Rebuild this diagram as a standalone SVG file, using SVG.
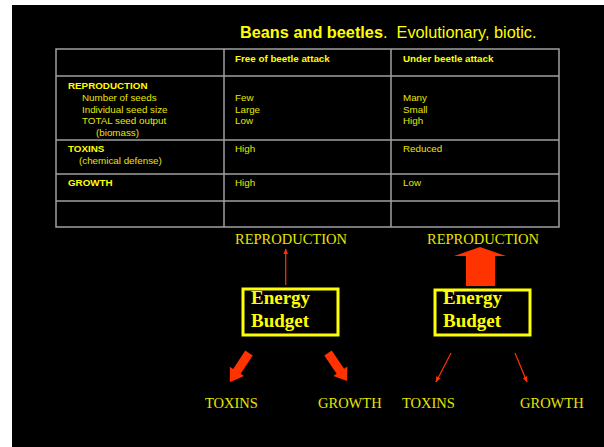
<svg xmlns="http://www.w3.org/2000/svg" width="604" height="447" viewBox="0 0 604 447">
<defs>
<style>
.tb{font-family:"Liberation Sans",Arial,sans-serif;font-size:9.8px;fill:#e6e600}
.tbb{font-family:"Liberation Sans",Arial,sans-serif;font-size:9.8px;font-weight:bold;fill:#ffff00}
.grid{stroke:#a0a0a0;stroke-width:1.5;fill:none}
.lbl{font-family:"Liberation Serif","Times New Roman",serif;font-size:14.5px;fill:#e6e600}
.eb{font-family:"Liberation Serif","Times New Roman",serif;font-size:19px;font-weight:bold;fill:#ffff00}
.box{fill:none;stroke:#ffff00;stroke-width:3}
.thin{stroke:#ff3300;stroke-width:1.2;fill:none}
.thick{fill:#ff3300}
</style>
<marker id="ah" viewBox="0 0 10 10" refX="9" refY="5" markerWidth="6" markerHeight="6" markerUnits="userSpaceOnUse" orient="auto">
<path d="M0,1 L10,5 L0,9 Z" fill="#ff3300"/>
</marker>
</defs>
<rect x="0" y="0" width="604" height="447" fill="#ffffff"/>
<rect x="12" y="5" width="592" height="442" fill="#000000"/>
<text x="240" y="38" font-family="Liberation Sans, Arial, sans-serif" font-size="16.3" fill="#ffff00" xml:space="preserve" style="white-space:pre"><tspan font-weight="bold">Beans and beetles</tspan>.  Evolutionary, biotic.</text>
<g id="table">
<rect class="grid" x="56" y="49" width="503" height="178"/>
<line class="grid" x1="224" y1="49" x2="224" y2="227"/>
<line class="grid" x1="391" y1="49" x2="391" y2="227"/>
<line class="grid" x1="56" y1="76" x2="559" y2="76"/>
<line class="grid" x1="56" y1="140" x2="559" y2="140"/>
<line class="grid" x1="56" y1="174" x2="559" y2="174"/>
<line class="grid" x1="56" y1="201" x2="559" y2="201"/>
<text class="tbb" x="235" y="62">Free of beetle attack</text>
<text class="tbb" x="403" y="62">Under beetle attack</text>
<text class="tbb" x="68" y="89">REPRODUCTION</text>
<text class="tb" x="82" y="100.5">Number of seeds</text>
<text class="tb" x="82" y="112.5">Individual seed size</text>
<text class="tb" x="82" y="124">TOTAL seed output</text>
<text class="tb" x="96" y="136">(biomass)</text>
<text class="tb" x="235" y="100.5">Few</text>
<text class="tb" x="235" y="112.5">Large</text>
<text class="tb" x="235" y="124">Low</text>
<text class="tb" x="403" y="100.5">Many</text>
<text class="tb" x="403" y="112.5">Small</text>
<text class="tb" x="403" y="124">High</text>
<text class="tbb" x="68" y="152">TOXINS</text>
<text class="tb" x="79" y="164">(chemical defense)</text>
<text class="tb" x="235" y="152">High</text>
<text class="tb" x="403" y="152">Reduced</text>
<text class="tbb" x="68" y="186">GROWTH</text>
<text class="tb" x="235" y="186">High</text>
<text class="tb" x="403" y="186">Low</text>
</g>
<g id="repro1"><text class="lbl" x="235" y="244">REPRODUCTION</text></g>
<g id="repro2"><text class="lbl" x="427" y="244">REPRODUCTION</text></g>
<g id="budget1"><rect class="box" x="243" y="289" width="95" height="46"/><text class="eb" x="251" y="304">Energy</text><text class="eb" x="251" y="327">Budget</text></g>
<g id="budget2"><rect class="box" x="435" y="290" width="95" height="45"/><text class="eb" x="443" y="304">Energy</text><text class="eb" x="443" y="327">Budget</text></g>
<g id="toxins1"><text class="lbl" x="205" y="408">TOXINS</text></g>
<g id="growth1"><text class="lbl" x="318" y="408">GROWTH</text></g>
<g id="toxins2"><text class="lbl" x="402" y="408">TOXINS</text></g>
<g id="growth2"><text class="lbl" x="520" y="408">GROWTH</text></g>
<g id="connectors">
<line class="thin" x1="285.7" y1="285" x2="285.7" y2="249" marker-end="url(#ah)"/>
<polygon class="thick" points="466,286 495,286 495,256 506,256 480,247 454,256 466,256"/>
<polygon class="thick" transform="translate(249,353) rotate(123.2)" points="0,-4.5 22,-4.5 22,-8.5 35,0 22,8.5 22,4.5 0,4.5"/>
<polygon class="thick" transform="translate(328,353) rotate(55.8)" points="0,-4.5 22,-4.5 22,-8.5 34,0 22,8.5 22,4.5 0,4.5"/>
<line class="thin" x1="451" y1="353" x2="436" y2="382" marker-end="url(#ah)"/>
<line class="thin" x1="515" y1="353" x2="527" y2="382" marker-end="url(#ah)"/>
</g>
</svg>
